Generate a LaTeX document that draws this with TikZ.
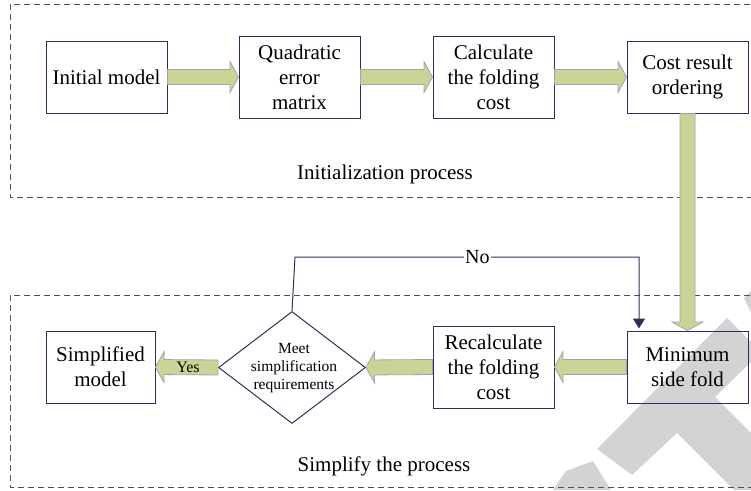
\documentclass[tikz,border=0pt]{standalone}
\usepackage{fontspec}
\setmainfont{Liberation Serif}
\usetikzlibrary{shapes.geometric,calc,arrows.meta}
\definecolor{navy}{HTML}{2D3158}
\definecolor{dashc}{HTML}{4B4F6E}
\definecolor{olive}{HTML}{CDD396}
\definecolor{olivebd}{HTML}{9EA3B8}
\definecolor{wm}{HTML}{D3D3D3}
\tikzset{
  stepbox/.style={draw=navy, line width=1pt, align=center, inner sep=0pt,
    font=\fontsize{21}{25}\selectfont, text=black},
  region/.style={draw=dashc, line width=0.9pt, dash pattern=on 6pt off 4pt},
  fat/.style={fill=olive, draw=olivebd, line width=0.8pt, line join=miter},
  thinarrow/.style={draw=navy, line width=1pt, -{Triangle[length=10pt,width=12pt]}},
  lbl/.style={font=\fontsize{21}{25}\selectfont, text=black},
}
\newcommand\fatarr[2]{%
  \coordinate (fh) at ($(#2)!8.5pt!(#1)$);
  \draw[fat] ($(#1)!7.5pt!90:(#2)$) -- ($(fh)!7.5pt!-90:(#1)$) -- ($(fh)!15.5pt!-90:(#1)$)
    -- (#2) -- ($(fh)!15.5pt!90:(#1)$) -- ($(fh)!7.5pt!90:(#1)$) -- ($(#1)!7.5pt!-90:(#2)$) -- cycle;}
\begin{document}
\begin{tikzpicture}[x=1pt,y=-1pt]
\useasboundingbox (0,0) rectangle (751,490);
% watermark
\fill[wm] (727,318) -- (751,342) -- (751,362) -- (715,397) -- (751,433) -- (751,490)
  -- (734,490) -- (677,433) -- (632,475) -- (597,449) -- cycle;
\fill[wm] (553,490) -- (566,471) -- (593,461) -- (611,490) -- cycle;
\fill[wm] (744,298) -- (751,291) -- (751,312) -- cycle;
% regions
\draw[region] (770,4) -- (10,4) -- (10,197) -- (770,197);
\draw[region] (770,295) -- (10,295) -- (10,487) -- (770,487);
\node[lbl, anchor=base] (initlbl) at (385,179) {Initialization process};
\node[lbl, anchor=base] (simplbl) at (384,471) {Simplify the process};
% boxes
\node[stepbox, minimum width=121pt, minimum height=72pt] (init) at (106.5,77) {Initial model};
\node[stepbox, minimum width=121pt, minimum height=82pt] (quad) at (299.5,77) {Quadratic\\error\\matrix};
\node[stepbox, minimum width=121pt, minimum height=82pt] (calc) at (493.5,77) {Calculate\\the folding\\cost};
\node[stepbox, minimum width=121pt, minimum height=72pt] (cost) at (687.5,77) {Cost result\\ordering};
\node[stepbox, minimum width=121pt, minimum height=72pt] (minf) at (687.5,367) {Minimum\\side fold};
\node[stepbox, minimum width=121pt, minimum height=82pt] (recalc) at (493.5,367) {Recalculate\\the folding\\cost};
\node[draw=navy, line width=1pt, diamond, inner sep=0pt, minimum width=147pt, minimum height=112pt] (diam) at (292,367.5) {};
\node[align=center, font=\fontsize{15.5}{18}\selectfont] (dtext) at (294,368) {Meet\\simplification\\requirements};
\node[stepbox, minimum width=109pt, minimum height=72pt] (simp) at (100.5,367) {Simplified\\model};
% fat arrows
\fatarr{init.east}{quad.west}
\fatarr{quad.east}{calc.west}
\fatarr{calc.east}{cost.west}
\fatarr{cost.south}{minf.north}
\fatarr{minf.west}{recalc.east}
\fatarr{recalc.west}{diam.east}
\fatarr{diam.west}{simp.east}
\node[font=\fontsize{16}{18}\selectfont] (yes) at ($(diam.west)!0.48!(simp.east)$) {Yes};
% No loop
\coordinate (nl) at (295,257);
\coordinate (nr) at (639,257);
\draw[thinarrow, shorten >=2pt] (diam.north) -- (nl) -- node[pos=0.53, fill=white, inner sep=1pt, font=\fontsize{20}{24}\selectfont] (no) {No} (nr) -- (nr |- minf.north);
\end{tikzpicture}
\end{document}
